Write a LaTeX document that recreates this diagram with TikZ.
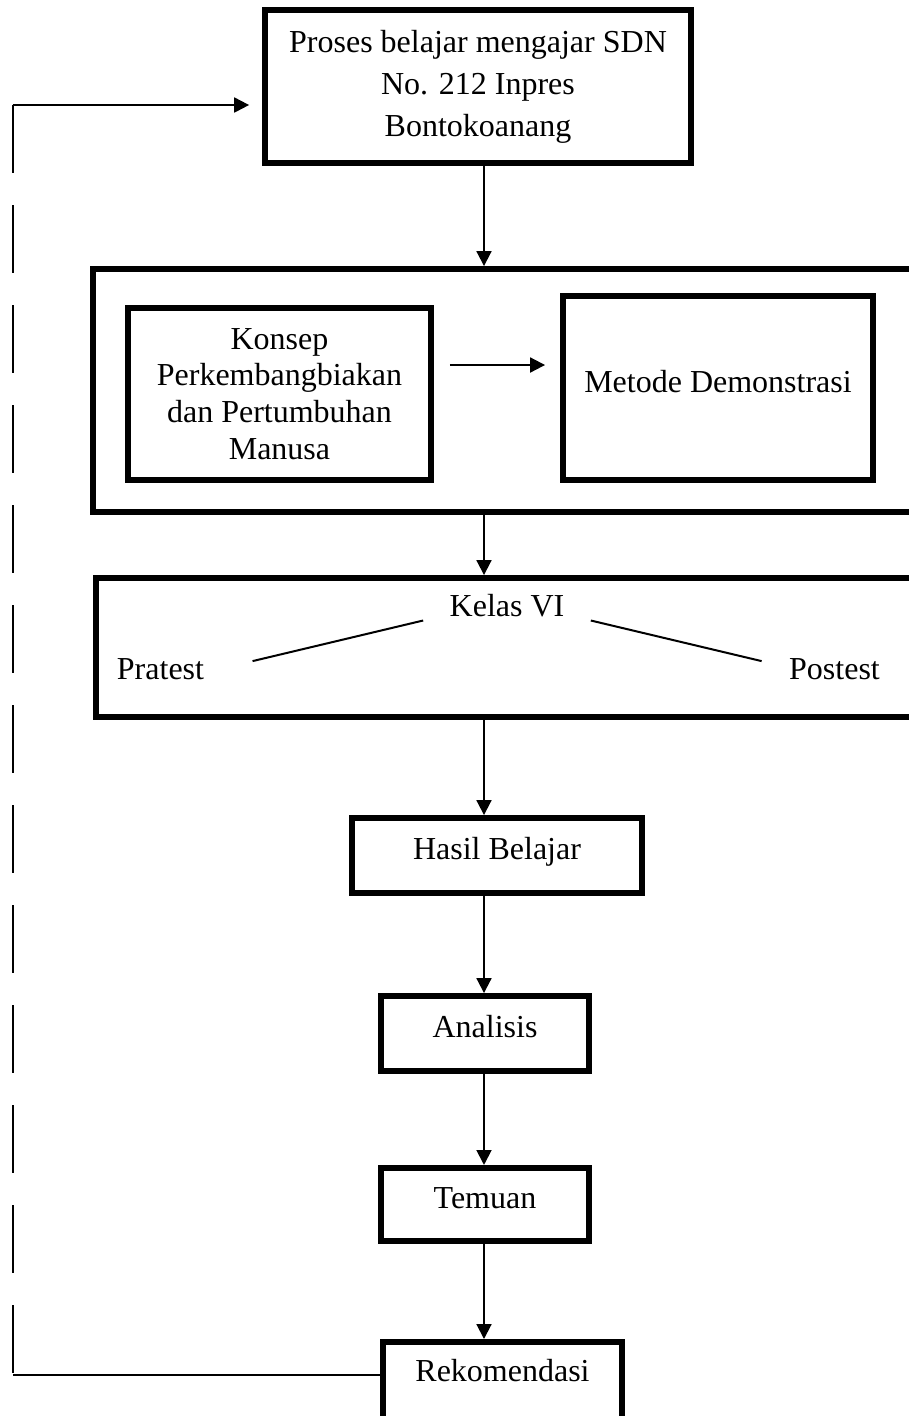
\documentclass[tikz,border=0pt]{standalone}
\usepackage{fontspec}
\setmainfont{Liberation Serif}
\usepackage{tikz}
\usetikzlibrary{arrows.meta}

\begin{document}
\begin{tikzpicture}[x=0.375pt, y=-0.375pt]
	\useasboundingbox (0,0) rectangle (909,1416);
	\clip (0,0) rectangle (909,1416);
	\begin{scope}[every node/.style = {rectangle, draw, line width = 2.25pt,
		align = center, font = \fontsize{12}{13.8}\selectfont},
		oneline/.style = {text height = 8pt, text depth = 5pt}]
		\node (proses) [minimum width = 159.4pt, minimum height = 57.4pt,
			font = \fontsize{12}{15.75}\selectfont] at (478,86.5)
			{Proses belajar mengajar SDN\\No. 212 Inpres\\Bontokoanang};
		\node (grpA) [minimum width = 312pt, minimum height = 91.1pt] at (509,390.5) {};
		\node (konsep) [minimum width = 113.6pt, minimum height = 64.5pt] at (279.5,394)
			{Konsep\\Perkembangbiakan\\dan Pertumbuhan\\Manusa};
		\node (metode) [oneline, minimum width = 116.25pt, minimum height = 69pt] at (718,388)
			{Metode Demonstrasi};
		\node (grpB) [minimum width = 310.9pt, minimum height = 52.1pt] at (510.5,647.5) {};
		\node (hasil) [oneline, minimum width = 108.75pt, minimum height = 28.1pt] at (497,855.5) {Hasil Belajar};
		\node (analisis) [oneline, minimum width = 78pt, minimum height = 28.1pt] at (485,1033.5) {Analisis};
		\node (temuan) [oneline, minimum width = 78pt, minimum height = 27.4pt] at (485,1204.5) {Temuan};
		\node (rekom) [minimum width = 89.6pt, minimum height = 37.5pt,
			text height = 8pt, text depth = 16.2pt] at (502.5,1392) {Rekomendasi};
	\end{scope}
	\begin{scope}[every node/.style = {inner sep = 0pt, text height = 8pt, text depth = 0pt,
		font = \fontsize{12}{13.8}\selectfont}]
		\node (kelas) at (507,606.3) {Kelas VI};
		\node (pratest) at (160.5,669.3) {Pratest};
		\node (postest) at (834.5,669.3) {Postest};
	\end{scope}
	\coordinate (spine) at (484,0);
	\coordinate (fbT) at (12.7,105);
	\coordinate (fbB) at (12.7,1375);
	\coordinate (kout) at ([shift={(16,-29)}]konsep.east);
	\begin{scope}[>={Triangle[length=5.6pt, width=5.6pt]},
			every edge/.style={draw=black, line width=0.75pt}]
		\path [->] (spine |- proses.south) edge (spine |- grpA.north);
		\path [->, shorten >= 5.6pt] (kout) edge (kout -| metode.west);
		\path [->] (spine |- grpA.south) edge (spine |- grpB.north);
		\path [->] (spine |- grpB.south) edge (spine |- hasil.north);
		\path [->] (spine |- hasil.south) edge (spine |- analisis.north);
		\path [->] (spine |- analisis.south) edge (spine |- temuan.north);
		\path [->] (spine |- temuan.south) edge (spine |- rekom.north);
		\path (rekom.west |- fbB) edge (fbB);
		\path [dash pattern=on 25.5pt off 12pt] (fbT) edge (fbB);
		\path [->, shorten >= 5pt] (fbT) edge (proses.west |- fbT);
		\path ([shift={(-26,3)}]kelas.south west) edge ([shift={(48,3)}]pratest.north east);
		\path ([shift={(26,3)}]kelas.south east) edge ([shift={(-27,3)}]postest.north west);
	\end{scope}
\end{tikzpicture}
\end{document}
